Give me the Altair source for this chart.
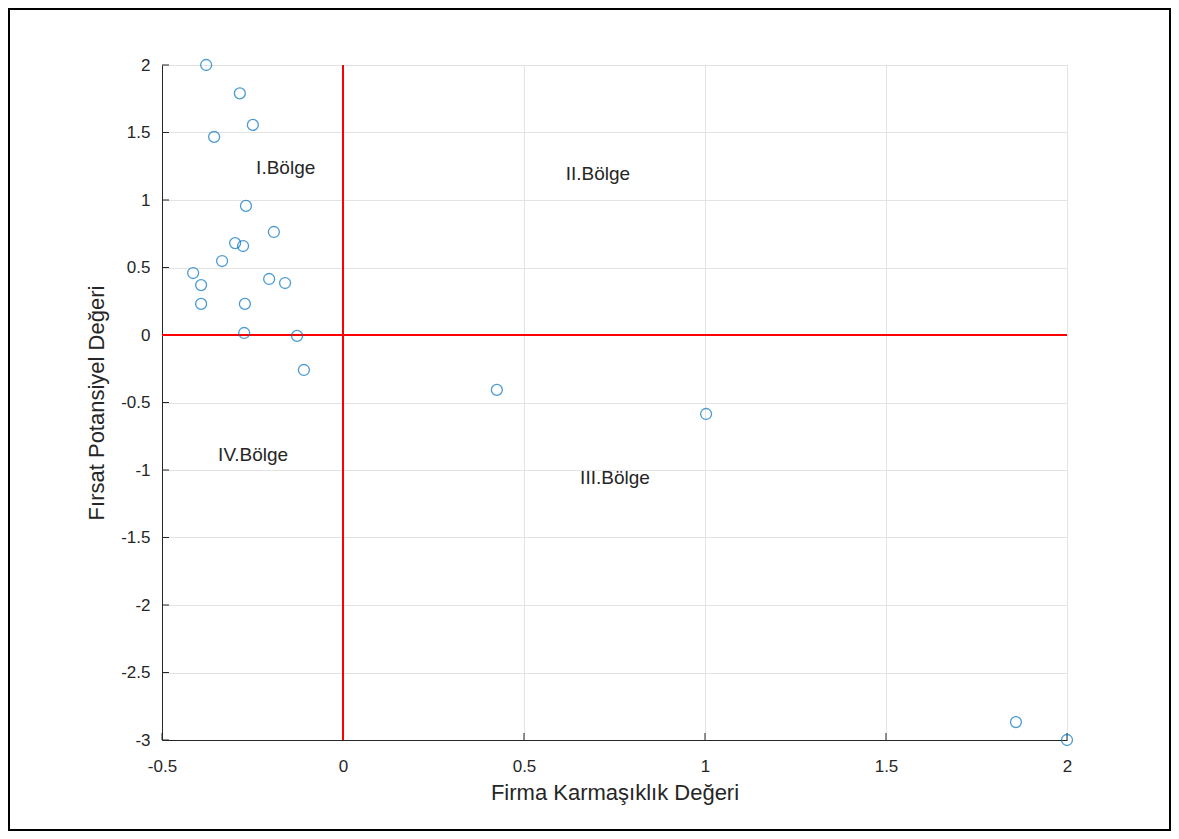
import altair as alt
import pandas as pd

# Scatter data
x_vals = [-0.378, -0.285, -0.249, -0.356, -0.268, -0.191, -0.298, -0.276, -0.334, -0.414,
          -0.392, -0.204, -0.160, -0.392, -0.271, -0.273, -0.127, -0.108, 0.425, 1.003,
          1.859, 2.0]
y_vals = [2.0, 1.79, 1.556, 1.467, 0.956, 0.763, 0.681, 0.659, 0.548, 0.459,
          0.370, 0.415, 0.385, 0.230, 0.230, 0.015, -0.007, -0.259, -0.407, -0.585,
          -2.867, -3.0]

# Region labels
region_names = ["I.Bölge", "II.Bölge", "III.Bölge", "IV.Bölge"]
region_x = [-0.24, 0.615, 0.655, -0.345]
region_y = [1.24, 1.19, -1.06, -0.89]

x_ticks = [-0.5, 0, 0.5, 1, 1.5, 2]
y_ticks = [2, 1.5, 1, 0.5, 0, -0.5, -1, -1.5, -2, -2.5, -3]

W, H = 905, 675
FONT = "Liberation Sans"
TXT = "#262626"
LBL = "'' + datum.value"

pts = pd.DataFrame({"x": x_vals, "y": y_vals})
labels = pd.DataFrame({"name": region_names, "x": region_x, "y": region_y})
xt = pd.DataFrame({"v": x_ticks})
yt = pd.DataFrame({"v": y_ticks})

xs = alt.Scale(domain=[-0.5, 2], nice=False, zero=False)
ys = alt.Scale(domain=[-3, 2], nice=False, zero=False)

xaxis = alt.Axis(values=x_ticks, title="Firma Karmaşıklık Değeri", grid=True,
                 gridColor="#e3e3e3", domainColor=TXT, tickSize=0, labelExpr=LBL,
                 labelColor=TXT, labelFont=FONT, labelFontSize=17, labelPadding=18,
                 titleFont=FONT, titleFontSize=22, titleFontWeight="normal",
                 titleColor=TXT, titlePadding=8, labelFlush=False)
yaxis = alt.Axis(values=y_ticks, title="Fırsat Potansiyel Değeri", grid=True,
                 gridColor="#e3e3e3", domainColor=TXT, tickSize=0, labelExpr=LBL,
                 labelColor=TXT, labelFont=FONT, labelFontSize=17, labelPadding=12,
                 titleFont=FONT, titleFontSize=22, titleFontWeight="normal",
                 titleColor=TXT, titlePadding=12, labelFlush=False)

points = alt.Chart(pts).mark_point(shape="circle", filled=False, size=120,
                                    strokeWidth=1.3, color="#0072BD").encode(
    x=alt.X("x:Q", scale=xs, axis=xaxis),
    y=alt.Y("y:Q", scale=ys, axis=yaxis),
)

vline = alt.Chart(pts).mark_rule(color="#FF0000", strokeWidth=1.3).encode(
    x=alt.datum(0, scale=xs), y=alt.datum(-3), y2=alt.datum(2)
)
hline = alt.Chart(pts).mark_rule(color="#FF0000", strokeWidth=1.3).encode(
    y=alt.datum(0, scale=ys), x=alt.datum(-0.5), x2=alt.datum(2)
)

# inward tick marks (MATLAB style)
yticks_in = alt.Chart(yt).mark_rule(color=TXT, strokeWidth=1).encode(
    y=alt.Y("v:Q", scale=ys), x=alt.value(0), x2=alt.value(7)
)
xticks_in = alt.Chart(xt).mark_rule(color=TXT, strokeWidth=1).encode(
    x=alt.X("v:Q", scale=xs), y=alt.value(H), y2=alt.value(H - 7)
)

text = alt.Chart(labels).mark_text(align="left", baseline="middle", font=FONT,
                                   fontSize=19, color=TXT).encode(
    x=alt.X("x:Q", scale=xs), y=alt.Y("y:Q", scale=ys), text="name:N"
)

frame = alt.Chart(pts).mark_rect(fill=None, stroke="#000000", strokeWidth=1.5,
                                 clip=False).encode(
    x=alt.value(-153), x2=alt.value(1008), y=alt.value(-56), y2=alt.value(765)
)

chart = alt.layer(yticks_in, xticks_in, hline, vline, points, text, frame).properties(
    width=W, height=H,
    autosize=alt.AutoSizeParams(type="none"),
    padding={"left": 154, "top": 57, "right": 104, "bottom": 91},
).configure_view(stroke=None).configure(background="white")

chart.save("out.html", embed_options={"renderer": "svg", "actions": False})
